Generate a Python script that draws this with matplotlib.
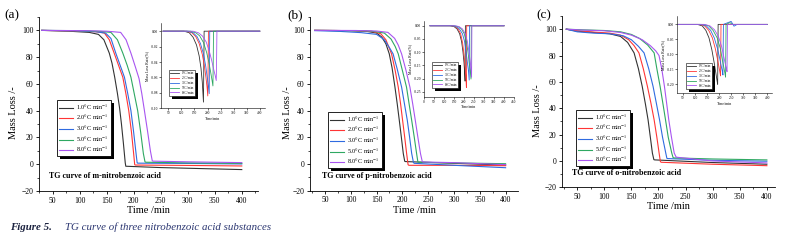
import matplotlib.pyplot as plt
from matplotlib.ticker import MultipleLocator

plt.rcParams['font.family'] = ['Liberation Serif', 'DejaVu Serif']
plt.rcParams['mathtext.fontset'] = 'stix'

W, H = 787, 241

rates = ["1.0", "2.0", "3.0", "5.0", "8.0"]
inset_rates = ["1°C/min", "2°C/min", "3°C/min", "5°C/min", "8°C/min"]
colors = ["#333333", "#ff3535", "#2f6be0", "#2fa862", "#a855f0"]
titles = ["TG curve of m-nitrobenzoic acid",
          "TG curve of p-nitrobenzoic acid",
          "TG curve of o-nitrobenzoic acid"]
panel_tags = ["(a)", "(b)", "(c)"]

# ---- TG data (time /min, mass loss /-) ----
tg_a_time = [
    [30, 80, 118, 135, 145, 155, 160, 165, 170, 174, 177.5, 181, 184.5, 185.5, 250, 400],
    [30, 90, 130, 146, 155, 164, 172, 180, 186, 191, 196, 200, 202, 203, 300, 400],
    [30, 90, 130, 148, 158, 167, 175, 183, 189, 195, 200, 204.5, 206.5, 207.5, 300, 400],
    [30, 100, 140, 158, 170, 180, 188, 195, 201, 207.5, 213, 218, 221, 222.5, 300, 400],
    [30, 110, 150, 176, 186, 195, 203, 210, 215, 220, 226, 231, 234.5, 236, 300, 400],
]
tg_a_mass = [
    [100, 99.4, 98.5, 97, 93, 83, 75.5, 65, 53, 42, 30, 16, 1, -1.5, -2.5, -4],
    [100, 99.6, 99, 98, 93, 83, 74, 65, 52, 40, 24, 8, -0.3, -0.6, -0.9, -1.3],
    [100, 99.7, 99, 98, 94, 83, 74, 65, 53, 40, 24, 8, 1, 0.8, 0.6, 0.2],
    [100, 99.8, 99.2, 98.5, 93, 83, 74, 65, 53, 40, 24, 8, 1.8, 1.5, 1.0, 0.6],
    [100, 99.8, 99.4, 98.5, 93, 83, 73, 64, 53, 40, 24, 10, 2.5, 2.3, 1.8, 1.2],
]
tg_b_time = [
    [30, 100, 130, 150, 160, 168, 174.6, 180, 185.6, 190, 194, 198, 201.7, 204.5, 206, 300, 400],
    [30, 100, 140, 158, 168, 179, 186, 192, 196.5, 200.4, 204.5, 208.2, 211, 212.5, 300, 400],
    [30, 80, 120, 150, 165, 175, 182, 190, 198.5, 204, 209.5, 214, 218, 221.5, 223, 300, 400],
    [30, 100, 140, 165, 178, 186, 192, 200, 208, 213, 218, 223, 227.5, 230, 231.5, 300, 400],
    [30, 110, 150, 172, 185, 192, 198.5, 207, 214.6, 220, 225, 230, 235, 238.5, 240, 300, 400],
]
tg_b_mass = [
    [100, 99.8, 99.3, 98, 95, 90, 82.4, 72, 57.5, 45, 32.7, 20, 7.9, 2, 1.8, 0.5, -0.8],
    [100, 99.8, 99.3, 97.5, 93, 82.4, 70, 57.5, 45, 32.7, 20, 7.9, -0.5, -1, -1, -1.3],
    [99.8, 99.2, 98.3, 97, 93, 87, 82.4, 71, 57.5, 45, 32.7, 20, 7.9, 1, 0.5, -1, -2.8],
    [100, 99.8, 99.4, 98, 93.5, 88, 82.4, 70, 57.5, 45, 32.7, 20, 7.9, 1.5, 1.3, 0.8, 0.2],
    [100, 99.9, 99.5, 98.5, 94, 89, 82.4, 70, 57.5, 45, 32.7, 20, 7.9, 1.8, 1.5, 1, -0.5],
]
tg_c_time = [
    [30, 50, 80, 110, 130, 143, 155, 163, 170, 176, 180.8, 185, 188.8, 191.5, 193, 300, 400],
    [30, 50, 80, 110, 130, 145, 155, 164, 172, 179.6, 186, 192, 197, 201.2, 203.5, 205, 300, 400],
    [30, 50, 80, 110, 135, 150, 163, 173.4, 182, 190, 196, 202, 207.5, 213.5, 215.5, 217, 300, 400],
    [30, 60, 100, 130, 150, 165, 180, 192, 197, 203, 208, 213, 218, 224.5, 227, 229, 300, 400],
    [30, 60, 100, 130, 150, 170, 185, 195, 201, 206, 211, 215, 219, 224, 229, 232.5, 234, 300, 400],
]
tg_c_mass = [
    [100, 98.5, 97.5, 96.5, 94.5, 90, 82, 70, 56.6, 43, 31.2, 18, 5.9, 1, 0.8, -1.2, -2.5],
    [100, 98.8, 97.8, 97, 95.5, 92, 87.5, 82, 70, 56.6, 44, 31.2, 18, 5.9, -0.5, -1, -2.5, -3.6],
    [100, 98, 97, 96.5, 95, 92, 87, 82, 70, 56.6, 44, 31.2, 18, 5.9, 2, 1.8, 0.5, -0.2],
    [100, 99.5, 99, 98, 96, 93, 88, 82, 70, 56.6, 44, 31.2, 18, 6, 2.5, 2.3, 1.5, 0.8],
    [100, 99.3, 98.8, 97.5, 95.5, 92, 87.5, 83.5, 80, 70, 56.6, 44, 31.2, 18, 6, 3, 2.8, 0, -1.5],
]

# ---- DTG inset data (time /min, mass loss rate) ----
dtg_a_time = [
    [30, 110, 130, 145, 158, 168, 175, 180, 184.5, 186, 187, 400],
    [30, 120, 140, 155, 168, 180, 188, 194, 198, 201, 202.5, 203.5, 400],
    [30, 125, 145, 160, 173, 185, 193, 199, 203, 206.5, 207.5, 208.5, 400],
    [30, 135, 155, 170, 185, 197, 205, 212, 217, 220.7, 222, 223, 400],
    [30, 145, 165, 180, 195, 207, 216, 224, 229, 233.4, 235, 236, 400],
]
dtg_a_rate = [
    [0, 0, -0.002, -0.008, -0.018, -0.032, -0.048, -0.066, -0.092, -0.04, 0, 0],
    [0, 0, -0.002, -0.007, -0.016, -0.03, -0.045, -0.06, -0.072, -0.084, -0.04, 0, 0],
    [0, 0, -0.002, -0.007, -0.016, -0.03, -0.045, -0.06, -0.07, -0.081, -0.04, 0, 0],
    [0, 0, -0.002, -0.006, -0.015, -0.028, -0.04, -0.053, -0.063, -0.071, -0.035, 0, 0],
    [0, 0, -0.002, -0.006, -0.014, -0.026, -0.038, -0.05, -0.057, -0.064, -0.03, 0, 0],
]
dtg_b_time = [
    [30, 130, 150, 165, 178, 188, 195, 200, 203, 205.5, 207, 400],
    [30, 135, 155, 170, 183, 193, 200, 205, 209, 212, 213.5, 400],
    [30, 140, 160, 177, 192, 203, 211, 217, 222, 226, 227.5, 400],
    [30, 150, 170, 187, 201, 212, 220, 226, 231, 235, 236.5, 400],
    [30, 155, 175, 192, 206, 217, 225, 231, 235, 238, 239.5, 400],
]
dtg_b_rate = [
    [0, 0, -0.003, -0.012, -0.03, -0.06, -0.1, -0.14, -0.175, -0.21, 0, 0],
    [0, 0, -0.003, -0.012, -0.03, -0.065, -0.11, -0.15, -0.19, -0.234, 0, 0],
    [0, 0, -0.003, -0.012, -0.03, -0.06, -0.1, -0.14, -0.17, -0.206, 0, 0],
    [0, 0, -0.003, -0.012, -0.03, -0.06, -0.1, -0.14, -0.17, -0.202, 0, 0],
    [0, 0, -0.003, -0.012, -0.03, -0.06, -0.1, -0.135, -0.165, -0.195, 0, 0],
]
dtg_c_time = [
    [30, 110, 130, 145, 158, 170, 180, 187, 191, 194, 196, 400],
    [30, 120, 140, 157, 172, 184, 193, 199, 203, 206, 208, 400],
    [30, 125, 147, 165, 180, 193, 203, 209, 213, 216, 218, 250, 262, 275, 400],
    [30, 135, 157, 175, 192, 205, 214, 220, 224, 227, 229, 245, 255, 400],
    [30, 140, 162, 181, 197, 211, 220, 226, 230, 233, 235, 400],
]
dtg_c_rate = [
    [0, 0, -0.005, -0.02, -0.045, -0.085, -0.13, -0.165, -0.185, -0.2, 0, 0],
    [0, 0, -0.005, -0.02, -0.045, -0.08, -0.115, -0.14, -0.158, -0.172, 0, 0],
    [0, 0, -0.005, -0.02, -0.045, -0.08, -0.115, -0.14, -0.155, -0.169, 0, 0.01, -0.006, 0, 0],
    [0, 0, -0.005, -0.02, -0.045, -0.08, -0.12, -0.145, -0.162, -0.176, 0, 0.006, 0, 0],
    [0, 0, -0.005, -0.018, -0.04, -0.075, -0.11, -0.132, -0.146, -0.158, 0, 0],
]


def rect(left, top, right, bottom):
    """Pixel box -> figure fraction rectangle."""
    return [left / W, 1 - bottom / H, (right - left) / W, (bottom - top) / H]


def draw_main(fig, box, xlim, t_list, m_list, leg_xy, title, title_xy, tag, tag_x, ylab_x):
    ax = fig.add_axes(rect(*box))
    for t, m, c, r in zip(t_list, m_list, colors, rates):
        ax.plot(t, m, color=c, lw=0.8, label=r + "°C min$^{-1}$")
    ax.set_xlim(*xlim)
    ax.set_ylim(-20, 110)
    ax.set_xticks(range(50, 401, 50))
    ax.set_yticks(range(-20, 101, 20))
    ax.xaxis.set_minor_locator(MultipleLocator(25))
    ax.yaxis.set_minor_locator(MultipleLocator(10))
    ax.tick_params(labelsize=5.5, length=2.5, width=0.6, pad=1.5, direction='out')
    ax.tick_params(which='minor', length=1.5, width=0.5, direction='out')
    for s in ['top', 'right']:
        ax.spines[s].set_visible(False)
    for s in ['left', 'bottom']:
        ax.spines[s].set_linewidth(0.6)
    ax.set_xlabel("Time /min", fontsize=7.5, labelpad=1)
    ax.set_ylabel("Mass Loss /-", fontsize=7.5, labelpad=1)
    ax.yaxis.set_label_coords((ylab_x - box[0]) / (box[2] - box[0]), 0.45)
    leg = ax.legend(loc='upper left', bbox_to_anchor=(leg_xy[0] / W, 1 - leg_xy[1] / H),
                    bbox_transform=fig.transFigure, fontsize=4.5, frameon=True,
                    fancybox=False, edgecolor='black', borderaxespad=0,
                    handlelength=2.3, handletextpad=0.5, labelspacing=0.12,
                    borderpad=0.3, framealpha=1,
                    shadow={'color': 'black', 'alpha': 1, 'lw': 0})
    leg.get_frame().set_linewidth(0.6)
    ax.text(title_xy[0], title_xy[1], title, fontsize=5.8, fontweight='bold', va='center')
    fig.text(tag_x / W, 1 - 15 / H, tag, fontsize=9.5, va='center')
    return ax


def draw_inset(fig, box, xlim, xticks, ylim, yticks, t_list, r_list, leg_xy):
    ax = fig.add_axes(rect(*box))
    for t, r, c, lab in zip(t_list, r_list, colors, inset_rates):
        ax.plot(t, r, color=c, lw=0.6, label=lab)
    ax.set_xlim(*xlim)
    ax.set_ylim(*ylim)
    ax.set_xticks(xticks)
    ax.set_yticks(yticks)
    ax.set_yticklabels(["%.2f" % v for v in yticks])
    ax.tick_params(labelsize=2.6, length=1.2, width=0.4, pad=1)
    for s in ['top', 'right']:
        ax.spines[s].set_visible(False)
    for s in ['left', 'bottom']:
        ax.spines[s].set_linewidth(0.4)
    ax.set_xlabel("Time/min", fontsize=2.8, labelpad=1)
    ax.set_ylabel("Mass Loss Rate(%)", fontsize=2.8, labelpad=1)
    leg = ax.legend(loc='upper left', bbox_to_anchor=(leg_xy[0] / W, 1 - leg_xy[1] / H),
                    bbox_transform=fig.transFigure, fontsize=2.6, frameon=True,
                    fancybox=False, edgecolor='black', borderaxespad=0,
                    handlelength=2.4, labelspacing=0.25, borderpad=0.3, framealpha=1,
                    shadow={'color': 'black', 'alpha': 1, 'lw': 0})
    leg.get_frame().set_linewidth(0.4)
    return ax


fig = plt.figure(figsize=(W / 100, H / 100), dpi=100)

draw_main(fig, (39, 17, 258, 191), (25, 430), tg_a_time, tg_a_mass, (57, 100),
          titles[0], (44, -8.8), panel_tags[0], 4, 18)
draw_main(fig, (310, 17, 518, 190.7), (21, 424), tg_b_time, tg_b_mass, (328, 112),
          titles[1], (43.6, -8.8), panel_tags[1], 287, 292)
draw_main(fig, (562, 16, 775, 187.3), (22, 415), tg_c_time, tg_c_mass, (576, 110),
          titles[2], (40.7, -9.4), panel_tags[2], 536, 542)

draw_inset(fig, (161, 22.7, 265, 108.3), (22, 420), range(50, 401, 50), (-0.10, 0.011),
           [0.0, -0.02, -0.04, -0.06, -0.08, -0.10], dtg_a_time, dtg_a_rate, (169, 70))
draw_inset(fig, (424, 21, 514, 96.7), (0, 450), range(0, 451, 50), (-0.269, 0.018),
           [0.0, -0.05, -0.10, -0.15, -0.20, -0.25], dtg_b_time, dtg_b_rate, (432, 62))
draw_inset(fig, (677, 16, 772, 93.3), (25, 420), range(50, 401, 50), (-0.23, 0.028),
           [0.0, -0.05, -0.10, -0.15, -0.20], dtg_c_time, dtg_c_rate, (686, 63))

fig.text(10 / W, 1 - 227 / H, "Figure 5.", fontsize=7.8, fontweight='bold',
         fontstyle='italic', color='#1c2340', va='center')
fig.text(65 / W, 1 - 227 / H, "TG curve of three nitrobenzoic acid substances",
         fontsize=7.8, fontstyle='italic', color='#2a3570', va='center')

fig.savefig("out.png", dpi=100)
